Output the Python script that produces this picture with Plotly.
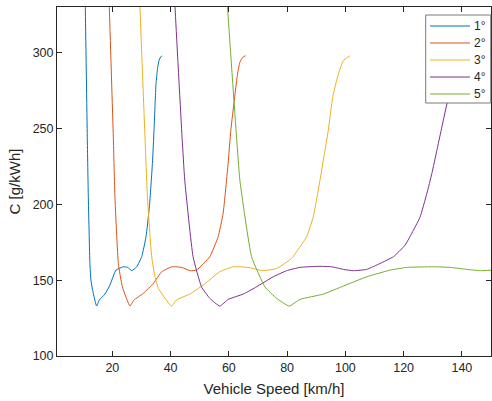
import plotly.graph_objects as go

# Gear 1
g1_speed = [10.45, 10.72, 11.40, 11.75, 12.30, 12.64, 13.23, 14.60, 15.53, 17.46, 19.17, 21.24, 23.78, 25.26,
            26.64, 28.36, 30.08, 31.55, 32.72, 33.76, 34.31, 34.99, 35.58, 36.16, 36.95]
g1_c = [365, 329.8, 244.2, 204.9, 161.0, 150.0, 143.4, 132.9, 136.9, 140.8, 146.7, 156.6, 158.8, 158.4,
        156.2, 158.8, 165.4, 178.5, 198.3, 226.9, 248.8, 279.3, 290.3, 295.7, 297.9]

# Gear 2
g2_speed = [18.60, 18.97, 20.34, 20.89, 22.06, 23.44, 26.05, 27.43, 30.66, 34.10, 36.95, 40.39, 43.83, 46.69,
            48.89, 53.46, 56.31, 58.03, 59.75, 60.68, 62.98, 63.78, 64.70, 65.74]
g2_c = [365, 329.8, 244.2, 204.9, 161.0, 145.6, 132.9, 136.9, 141.3, 147.9, 155.5, 158.8, 158.4, 156.2,
        156.6, 165.4, 178.5, 193.9, 226.9, 248.8, 285.8, 293.5, 296.8, 297.9]

# Gear 3
g3_speed = [29.00, 29.49, 31.21, 32.04, 33.51, 34.65, 35.82, 40.29, 42.01, 46.58, 51.16, 56.90, 61.47, 66.63,
            71.79, 76.40, 81.55, 84.41, 86.71, 88.98, 91.29, 93.01, 94.14, 95.65, 97.58, 99.30, 101.60]
g3_c = [365, 329.8, 244.2, 204.9, 165.4, 152.2, 144.6, 132.9, 136.9, 140.8, 146.7, 155.5, 158.8, 158.4,
        156.2, 157.7, 164.3, 172.0, 178.5, 191.7, 215.9, 235.6, 248.8, 270.5, 285.8, 294.7, 297.9]

# Gear 4
g4_speed = [40.80, 41.53, 43.93, 44.86, 47.72, 50.61, 53.46, 56.90, 59.75, 64.91, 69.52, 75.23, 79.83, 84.41,
            91.29, 95.31, 99.30, 102.74, 107.35, 111.92, 116.49, 120.52, 123.37, 125.67, 127.98, 129.70,
            131.42, 132.90, 134.86, 137.80, 140.20, 143.50]
g4_c = [365, 329.8, 244.2, 215.9, 165.4, 145.6, 138.0, 132.9, 137.3, 140.8, 145.6, 152.2, 156.2, 158.4,
        159.1, 158.8, 157.1, 156.2, 157.1, 161.0, 165.4, 173.1, 182.9, 191.7, 207.1, 220.3,
        235.6, 248.8, 266.1, 285.8, 294.7, 297.9]

# Gear 5
g5_speed = [58.60, 59.55, 62.64, 63.78, 67.80, 72.37, 76.40, 80.73, 84.41, 92.42, 99.30, 107.35, 115.36,
            121.10, 130.25, 135.99, 141.73, 146.31, 150.43]
g5_c = [365, 329.8, 244.2, 215.9, 165.4, 145.6, 138.0, 132.9, 137.3, 140.8, 146.1, 152.2, 156.6,
        158.4, 158.8, 158.4, 157.1, 156.2, 156.6]

names = ["1°", "2°", "3°", "4°", "5°"]
colors = ["#0072BD", "#D95319", "#EDB120", "#7E2F8E", "#77AC30"]
series = [(g1_speed, g1_c), (g2_speed, g2_c), (g3_speed, g3_c), (g4_speed, g4_c), (g5_speed, g5_c)]

x_ticks = [20, 40, 60, 80, 100, 120, 140]
y_ticks = [100, 150, 200, 250, 300]

W, H = 492, 401
ML, MR, MT, MB = 57, 1, 7, 45
PW, PH = W - ML - MR, H - MT - MB


def px_x(px):
    return (px - ML) / PW


def px_y(py):
    return (H - MB - py) / PH


fig = go.Figure()
for (xs, ys), nm, col in zip(series, names, colors):
    fig.add_trace(go.Scatter(x=xs, y=ys, mode="lines", name=nm, showlegend=False,
                             line=dict(color=col, width=1, shape="spline", smoothing=0.4)))

axcol = "#262626"

# Manual legend box (MATLAB-style, compact rows)
shapes = [dict(type="rect", xref="paper", yref="paper",
               x0=px_x(425.7), x1=px_x(490.7), y0=px_y(103), y1=px_y(15),
               line=dict(color="#7a7a7a", width=1), fillcolor="white", layer="above")]
annotations = []
for i, (nm, col) in enumerate(zip(names, colors)):
    py = 26 + 17 * i
    shapes.append(dict(type="line", xref="paper", yref="paper",
                       x0=px_x(430), x1=px_x(470), y0=px_y(py), y1=px_y(py),
                       line=dict(color=col, width=1), layer="above"))
    annotations.append(dict(text=nm, xref="paper", yref="paper", x=px_x(472), y=px_y(py),
                            xanchor="left", yanchor="middle", showarrow=False,
                            font=dict(size=12, color=axcol)))

fig.update_layout(
    width=W, height=H,
    margin=dict(l=ML, r=MR, t=MT, b=MB, autoexpand=False),
    paper_bgcolor="white", plot_bgcolor="white",
    font=dict(family="Liberation Sans, Arial", size=12.5, color=axcol),
    showlegend=False,
    shapes=shapes, annotations=annotations,
)
fig.update_xaxes(range=[1, 150], tickvals=x_ticks, ticks="inside", ticklen=5, tickcolor=axcol,
                 showline=True, linecolor=axcol, linewidth=1, mirror="ticks", showgrid=False,
                 zeroline=False, title=dict(text="Vehicle Speed [km/h]", standoff=9),
                 tickfont=dict(size=12.5, color=axcol))
fig.update_yaxes(range=[100, 330], tickvals=y_ticks, ticks="inside", ticklen=5, tickcolor=axcol,
                 showline=True, linecolor=axcol, linewidth=1, mirror="ticks", showgrid=False,
                 zeroline=False, title=dict(text="C [g/kWh]", standoff=8),
                 tickfont=dict(size=12.5, color=axcol))

fig.write_html("out.html")
